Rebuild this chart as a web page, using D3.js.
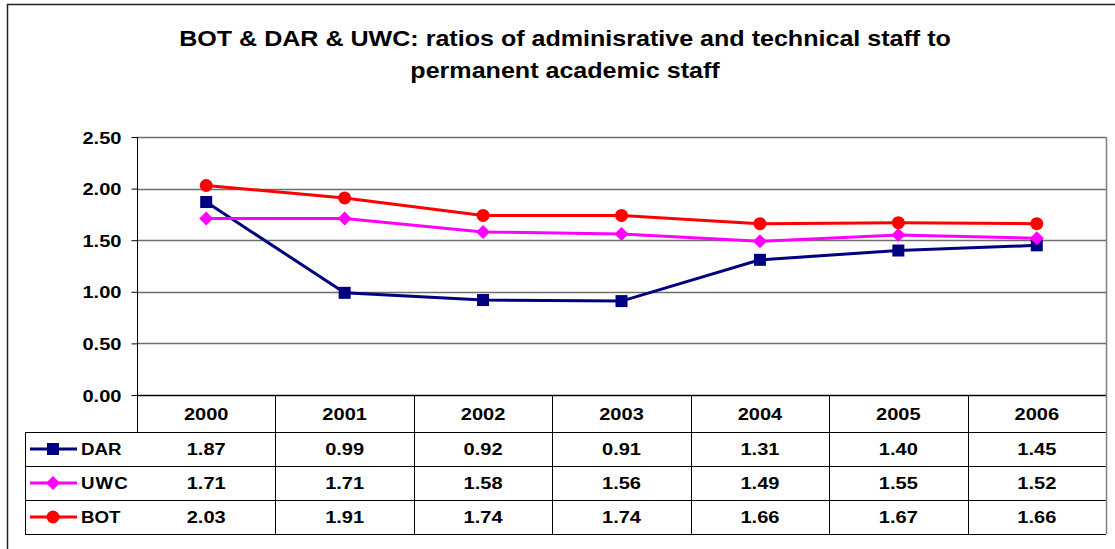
<!DOCTYPE html>
<html>
<head>
<meta charset="utf-8">
<script src="https://cdn.jsdelivr.net/npm/d3@7"></script>
<style>
  body { margin: 0; background: #fff; }
  svg text { font-family: "Liberation Sans", Arial, sans-serif; font-weight: bold; fill: #000; }
</style>
</head>
<body>
<div id="box"></div>
<script>
// data
const years = ['2000', '2001', '2002', '2003', '2004', '2005', '2006'];
const dar = [1.87, 0.99, 0.92, 0.91, 1.31, 1.40, 1.45];
const uwc = [1.71, 1.71, 1.58, 1.56, 1.49, 1.55, 1.52];
const bot = [2.03, 1.91, 1.74, 1.74, 1.66, 1.67, 1.66];
const yTicks = [0, 0.5, 1, 1.5, 2, 2.5];
const titleLines = ['BOT & DAR & UWC: ratios of adminisrative and technical staff to', 'permanent academic staff'];

const series = [
  { name: 'DAR', values: dar, color: '#000080', marker: 'square' },
  { name: 'UWC', values: uwc, color: '#ff00ff', marker: 'diamond' },
  { name: 'BOT', values: bot, color: '#ff0000', marker: 'circle' }
];

const width = 1115;
const height = 549;
const plotLeft = 137;
const plotRight = 1106;
const plotTop = 137;
const plotBottom = 395;
const headerH = 37;
const rowH = 34;
const tableLeft = 25;
const stretch = 1.18; // the source text is rendered wide

const svg = d3.select('#box').append('svg')
  .attr('width', width)
  .attr('height', height);

// outer border
svg.append('path')
  .attr('d', `M7.5,${height} L7.5,4.5 L${width},4.5`)
  .style('fill', 'none')
  .style('stroke', '#222')
  .style('stroke-width', 1.5);

// title
svg.selectAll('.title').data(titleLines)
  .join('text')
  .attr('class', 'title')
  .attr('transform', (d, i) => `translate(565,${46 + i * 32}) scale(1.14,1)`)
  .attr('text-anchor', 'middle')
  .style('font-size', '22px')
  .text(d => d);

const x = d3.scaleBand().domain(years).range([plotLeft, plotRight]);
const y = d3.scaleLinear().domain([0, 2.5]).range([plotBottom, plotTop]);

// gridlines
svg.append('g')
  .selectAll('line').data(yTicks.filter(d => d > 0))
  .join('line')
  .attr('x1', plotLeft)
  .attr('x2', plotRight)
  .attr('y1', d => Math.round(y(d)) + 0.5)
  .attr('y2', d => Math.round(y(d)) + 0.5)
  .style('stroke', '#6e6e6e')
  .style('stroke-width', 1.3);

// plot right border
svg.append('line')
  .attr('x1', plotRight + 0.5).attr('x2', plotRight + 0.5)
  .attr('y1', plotTop).attr('y2', plotBottom)
  .style('stroke', '#808080')
  .style('stroke-width', 1.5);

// y axis
const yAxis = svg.append('g')
  .attr('transform', `translate(${plotLeft + 0.5},0)`)
  .call(d3.axisLeft(y).tickValues(yTicks).tickFormat(d3.format('.2f')).tickSize(6).tickPadding(10));
yAxis.select('.domain').remove();
yAxis.append('line')
  .attr('y1', plotTop).attr('y2', plotBottom + headerH)
  .style('stroke', '#000');
yAxis.selectAll('.tick line').style('stroke', '#000');
yAxis.selectAll('.tick text')
  .attr('x', null).attr('dy', null)
  .attr('transform', `translate(-16,6) scale(${stretch},1)`)
  .style('font-size', '17px')
  .style('font-family', '"Liberation Sans", Arial, sans-serif')
  .style('font-weight', 'bold')
  .style('fill', '#000');

// data table
const table = svg.append('g');
const tableBottom = plotBottom + headerH + rowH * series.length;

table.append('line')
  .attr('x1', plotLeft).attr('x2', plotRight)
  .attr('y1', plotBottom + 0.5).attr('y2', plotBottom + 0.5)
  .style('stroke', '#000').style('stroke-width', 1.5);

table.selectAll('.hrow').data(d3.range(series.length + 1))
  .join('line')
  .attr('class', 'hrow')
  .attr('x1', tableLeft).attr('x2', plotRight)
  .attr('y1', i => plotBottom + headerH + i * rowH + 0.5)
  .attr('y2', i => plotBottom + headerH + i * rowH + 0.5)
  .style('stroke', '#000');

table.append('line')
  .attr('x1', tableLeft + 0.5).attr('x2', tableLeft + 0.5)
  .attr('y1', plotBottom + headerH).attr('y2', tableBottom)
  .style('stroke', '#000');

table.selectAll('.vcol').data(years)
  .join('line')
  .attr('class', 'vcol')
  .attr('x1', d => Math.round(x(d) + x.bandwidth()) + 0.5)
  .attr('x2', d => Math.round(x(d) + x.bandwidth()) + 0.5)
  .attr('y1', plotBottom)
  .attr('y2', tableBottom)
  .style('stroke', (d, i) => i === years.length - 1 ? '#808080' : '#000')
  .style('stroke-width', (d, i) => i === years.length - 1 ? 1.5 : 1);

table.selectAll('.year').data(years)
  .join('text')
  .attr('class', 'year')
  .attr('transform', d => `translate(${x(d) + x.bandwidth() / 2},${plotBottom + headerH / 2 + 6}) scale(${stretch},1)`)
  .attr('text-anchor', 'middle')
  .style('font-size', '17px')
  .text(d => d);

function drawMarker(g, type, color) {
  if (type === 'square') {
    g.append('rect').attr('x', -6).attr('y', -6).attr('width', 12).attr('height', 12).style('fill', color);
  } else if (type === 'diamond') {
    g.append('path').attr('d', 'M0,-7 L7,0 L0,7 L-7,0 Z').style('fill', color);
  } else {
    g.append('circle').attr('r', 6.5).style('fill', color);
  }
}

const line = d3.line()
  .x((d, i) => x(years[i]) + x.bandwidth() / 2)
  .y(d => y(d));

series.forEach((s, si) => {
  const rowY = plotBottom + headerH + si * rowH + rowH / 2;

  // legend key
  table.append('line')
    .attr('x1', 30).attr('x2', 77)
    .attr('y1', rowY).attr('y2', rowY)
    .style('stroke', s.color).style('stroke-width', 3);
  drawMarker(table.append('g').attr('transform', `translate(53,${rowY})`), s.marker, s.color);
  table.append('text')
    .attr('transform', `translate(81,${rowY + 6}) scale(1.1,1)`)
    .style('font-size', '17px')
    .style('letter-spacing', s.name === 'UWC' ? '1px' : null)
    .text(s.name);

  table.selectAll('.val' + si).data(s.values)
    .join('text')
    .attr('class', 'val' + si)
    .attr('transform', (d, i) => `translate(${x(years[i]) + x.bandwidth() / 2},${rowY + 6}) scale(${stretch},1)`)
    .attr('text-anchor', 'middle')
    .style('font-size', '17px')
    .text(d => d.toFixed(2));
});

// lines drawn after table so BOT is on top
series.forEach(s => {
  svg.append('path')
    .datum(s.values)
    .attr('d', line)
    .style('fill', 'none')
    .style('stroke', s.color)
    .style('stroke-width', 3);
});
series.forEach(s => {
  s.values.forEach((v, i) => {
    drawMarker(svg.append('g').attr('transform', `translate(${x(years[i]) + x.bandwidth() / 2},${y(v)})`), s.marker, s.color);
  });
});
</script>
</body>
</html>
